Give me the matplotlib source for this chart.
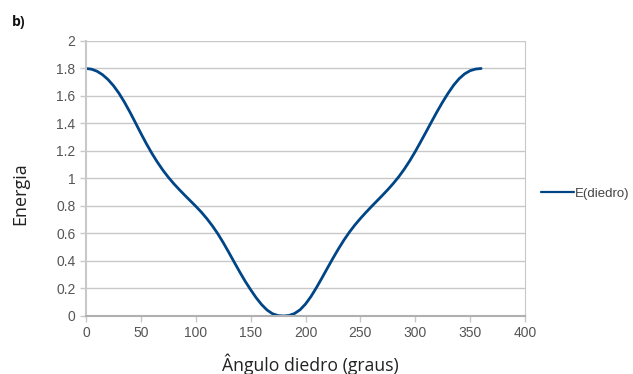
import matplotlib
matplotlib.use("Agg")
import matplotlib.pyplot as plt

# dihedral angle (degrees) and energy
angle = list(range(0, 361, 5))
energy = [1.800, 1.795, 1.780, 1.755, 1.720, 1.675, 1.620, 1.555, 1.483, 1.406,
          1.328, 1.253, 1.183, 1.119, 1.061, 1.009, 0.962, 0.919, 0.878, 0.838,
          0.798, 0.756, 0.709, 0.657, 0.599, 0.534, 0.464, 0.392, 0.321, 0.253,
          0.191, 0.133, 0.083, 0.043, 0.016, 0.003, 0.000,
          0.004, 0.018, 0.045, 0.087, 0.142, 0.207, 0.277, 0.349, 0.420, 0.488,
          0.552, 0.610, 0.662, 0.709, 0.753, 0.795, 0.836, 0.877, 0.919, 0.964,
          1.013, 1.068, 1.129, 1.196, 1.268, 1.341, 1.415, 1.488, 1.557, 1.621,
          1.679, 1.726, 1.761, 1.784, 1.796, 1.800]

xticks = [0, 50, 100, 150, 200, 250, 300, 350, 400]
yticks = [0, 0.2, 0.4, 0.6, 0.8, 1, 1.2, 1.4, 1.6, 1.8, 2]
ylabels = ["0", "0.2", "0.4", "0.6", "0.8", "1", "1.2", "1.4", "1.6", "1.8", "2"]

fig = plt.figure(figsize=(6.33, 3.74), dpi=100)
ax = fig.add_axes([0.1359, 0.1551, 0.6935, 0.7353])

ax.plot(angle, energy, color="#004586", linewidth=2.0, label="E(diedro)",
        solid_capstyle="round", solid_joinstyle="round")

ax.set_xlim(0, 400)
ax.set_ylim(0, 2)
ax.set_xticks(xticks)
ax.set_yticks(yticks)
ax.set_yticklabels(ylabels)

ax.grid(axis="y", color="#c8c8c8", linewidth=1.0)
ax.set_axisbelow(True)
ax.spines["top"].set_visible(False)
ax.spines["right"].set_color("#c8c8c8")
ax.spines["left"].set_color("#c8c8c8")
ax.spines["left"].set_linewidth(1.5)
ax.spines["bottom"].set_color("#b0b0b0")
ax.spines["bottom"].set_linewidth(1.5)

ax.tick_params(axis="both", colors="#c8c8c8", labelcolor="#555555", labelsize=10,
               length=4, width=1)
for lab in ax.get_xticklabels() + ax.get_yticklabels():
    lab.set_family("Liberation Sans")

ax.set_xlabel("Ângulo diedro (graus)", fontsize=12.7, family="Open Sans", color="#222222")
ax.xaxis.set_label_coords(0.51, -0.135)
ax.set_ylabel("Energia", fontsize=13, family="Open Sans", color="#222222")
ax.yaxis.set_label_coords(-0.13, 0.444)

leg = ax.legend(loc="center left", bbox_to_anchor=(1.025, 0.445), frameon=False,
                handlelength=2.5, handletextpad=0.05, borderaxespad=0,
                prop={"family": "Liberation Sans", "size": 9.5})
for t in leg.get_texts():
    t.set_color("#444444")
for ln in leg.get_lines():
    ln.set_linewidth(1.6)

fig.text(0.019, 0.93, "b)", fontsize=10, fontweight="bold", family="Open Sans",
         color="#111111")

plt.savefig("out.png", dpi=100)
